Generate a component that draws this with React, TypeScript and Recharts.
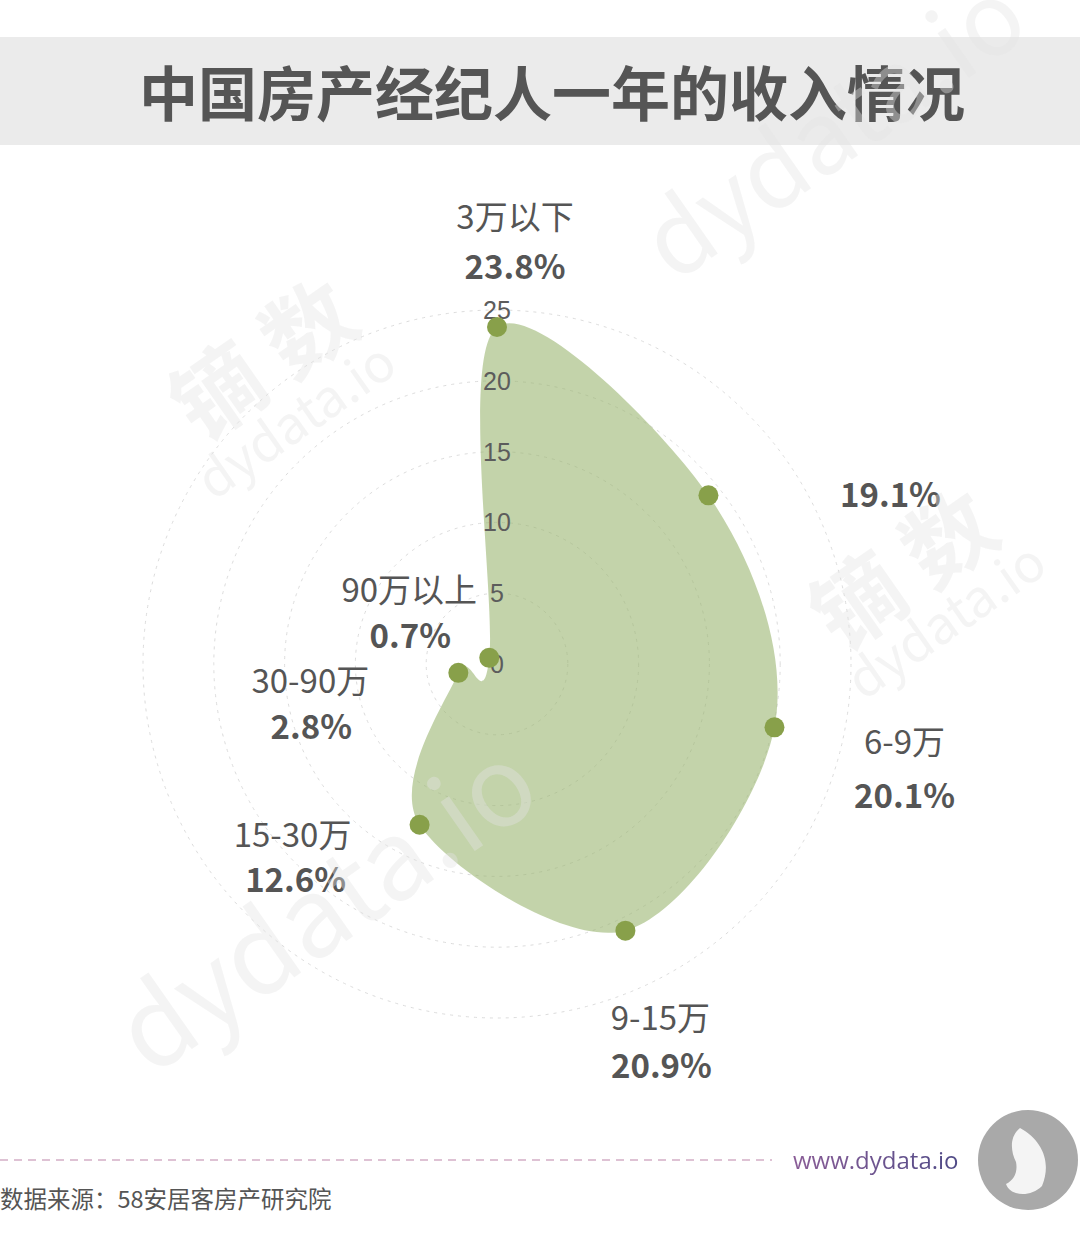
import React from "react";
import { RadarChart, Radar, PolarGrid, PolarAngleAxis, PolarRadiusAxis } from "recharts";

// ---- data ----
const categories = ["3万以下", "3-6万", "6-9万", "9-15万", "15-30万", "30-90万", "90万以上"];
const shownNames = ["3万以下", "", "6-9万", "9-15万", "15-30万", "30-90万", "90万以上"];
const shares = [23.8, 19.1, 20.1, 20.9, 12.6, 2.8, 0.7];
const radiusTicks = [0, 5, 10, 15, 20, 25];

const data = categories.map((c, i) => ({ name: c, value: shares[i] }));

// label placement relative to each data point: [nameDx, nameDy, pctDx, pctDy]
const labelOffsets: number[][] = [
  [18, -112, 18, -62],
  [0, 0, 182, -2],
  [130, 13, 130, 67],
  [35, 85, 36, 133],
  [-127, 8, -124, 53],
  [-148, 6, -147, 52],
  [-80, -70, -79, -24],
];

const TEXT = "#555555";
const CJK = "'Noto Sans CJK SC', 'Noto Sans', sans-serif";

// closed Catmull-Rom spline through the radar vertices
function smoothClosedPath(pts: number[][]) {
  const n = pts.length;
  let d = `M${pts[0][0]},${pts[0][1]}`;
  for (let i = 0; i < n; i++) {
    const p0 = pts[(i - 1 + n) % n];
    const p1 = pts[i];
    const p2 = pts[(i + 1) % n];
    const p3 = pts[(i + 2) % n];
    const c1x = p1[0] + (p2[0] - p0[0]) / 6;
    const c1y = p1[1] + (p2[1] - p0[1]) / 6;
    const c2x = p2[0] - (p3[0] - p1[0]) / 6;
    const c2y = p2[1] - (p3[1] - p1[1]) / 6;
    d += ` C${c1x},${c1y} ${c2x},${c2y} ${p2[0]},${p2[1]}`;
  }
  return d + " Z";
}

function SmoothRadarShape(props: any) {
  const pts = props.points || [];
  if (!pts.length) return <g />;
  const d = smoothClosedPath(pts.map((p: any) => [p.x, p.y]));
  return (
    <g>
      <path d={d} fill="#9bb671" fillOpacity={0.6} stroke="none" />
      {pts.map((p: any, i: number) => {
        const o = labelOffsets[i];
        return (
          <g key={i} fontFamily={CJK} fill={TEXT}>
            {shownNames[i] ? (
              <text x={p.x + o[0]} y={p.y + o[1]} textAnchor="middle" dominantBaseline="central" fontSize={33}>
                {shownNames[i]}
              </text>
            ) : null}
            <text x={p.x + o[2]} y={p.y + o[3]} textAnchor="middle" dominantBaseline="central" fontSize={33} fontWeight="bold">
              {`${shares[i]}%`}
            </text>
          </g>
        );
      })}
    </g>
  );
}

function RadiusTick(props: any) {
  const { x, y, payload } = props;
  return (
    <text x={x} y={y} textAnchor="middle" dominantBaseline="central" fontSize={25} fill="#5c5c5c" fontFamily="'Liberation Sans', Arial, sans-serif">
      {payload.value}
    </text>
  );
}

function Dot(props: any) {
  const { cx, cy } = props;
  return <circle cx={cx} cy={cy} r={10} fill="#88a04a" />;
}

const wm: React.CSSProperties = {
  position: "absolute",
  color: "rgba(228,228,228,0.4)",
  fontFamily: CJK,
  whiteSpace: "nowrap",
  pointerEvents: "none",
  transformOrigin: "center",
};

export default function App() {
  return (
    <div style={{ position: "absolute", left: 0, top: 0, width: 1080, height: 1248, background: "#fff", overflow: "hidden" }}>
      {/* title band */}
      <div style={{ position: "absolute", left: 0, top: 37, width: 1080, height: 108, background: "#ebebeb" }} />
      <div
        style={{
          position: "absolute",
          left: 0,
          top: 37,
          width: 1104,
          height: 108,
          lineHeight: "108px",
          textAlign: "center",
          fontFamily: CJK,
          fontWeight: "bold",
          fontSize: 59,
          color: TEXT,
        }}
      >
        中国房产经纪人一年的收入情况
      </div>

      <div style={{ position: "absolute", left: 0, top: 0 }}>
        <RadarChart width={1080} height={1248} cx={497} cy={664} outerRadius={354} data={data} margin={{ top: 0, right: 0, bottom: 0, left: 0 }}>
          <PolarGrid gridType="circle" radialLines={false} stroke="#dcdcdc" strokeDasharray="3 5" />
          <PolarAngleAxis dataKey="name" tick={false} axisLine={false} tickLine={false} />
          <PolarRadiusAxis
            angle={90}
            domain={[0, 25]}
            ticks={radiusTicks as any}
            tick={<RadiusTick />}
            axisLine={false}
            tickLine={false}
          />
          <Radar dataKey="value" isAnimationActive={false} shape={SmoothRadarShape} dot={<Dot />} />
        </RadarChart>
      </div>

      {/* watermarks */}
      <div style={{ ...wm, left: 160, top: 290, fontSize: 90, fontWeight: "bold", transform: "rotate(-35deg)" }}>镝 数</div>
      <div style={{ ...wm, left: 180, top: 380, fontSize: 52, transform: "rotate(-35deg)" }}>dydata.io</div>
      <div style={{ ...wm, left: 800, top: 500, fontSize: 90, fontWeight: "bold", transform: "rotate(-35deg)" }}>镝 数</div>
      <div style={{ ...wm, left: 830, top: 580, fontSize: 52, transform: "rotate(-35deg)" }}>dydata.io</div>
      <div style={{ ...wm, left: 80, top: 820, fontSize: 110, transform: "rotate(-35deg)" }}>dydata.io</div>
      <div style={{ ...wm, left: 610, top: 50, fontSize: 100, transform: "rotate(-35deg)" }}>dydata.io</div>

      {/* footer */}
      <svg style={{ position: "absolute", left: 0, top: 1152 }} width={780} height={16}>
        <line x1={0} y1={8} x2={772} y2={8} stroke="#d3aec6" strokeWidth={1.5} strokeDasharray="8 6" />
      </svg>
      <div
        style={{
          position: "absolute",
          left: 793,
          top: 1143,
          fontSize: 24,
          lineHeight: "34px",
          fontFamily: "'Open Sans', 'Noto Sans', sans-serif",
          background: "linear-gradient(90deg,#8a5d97,#4f4a86)",
          WebkitBackgroundClip: "text",
          color: "transparent",
        }}
      >
        www.dydata.io
      </div>
      <svg style={{ position: "absolute", left: 970, top: 1100 }} width={110} height={120}>
        <circle cx={58} cy={60} r={50} fill="#a9a9a9" />
        <path d="M50,28 C72,40 82,62 72,86 C60,98 40,96 36,84 C44,80 48,72 46,62 C40,50 40,36 50,28 Z" fill="#f4f4f4" />
      </svg>
      <div
        style={{
          position: "absolute",
          left: 0,
          top: 1183,
          fontSize: 23.5,
          lineHeight: "30px",
          fontFamily: CJK,
          color: TEXT,
        }}
      >
        数据来源：58安居客房产研究院
      </div>
    </div>
  );
}
